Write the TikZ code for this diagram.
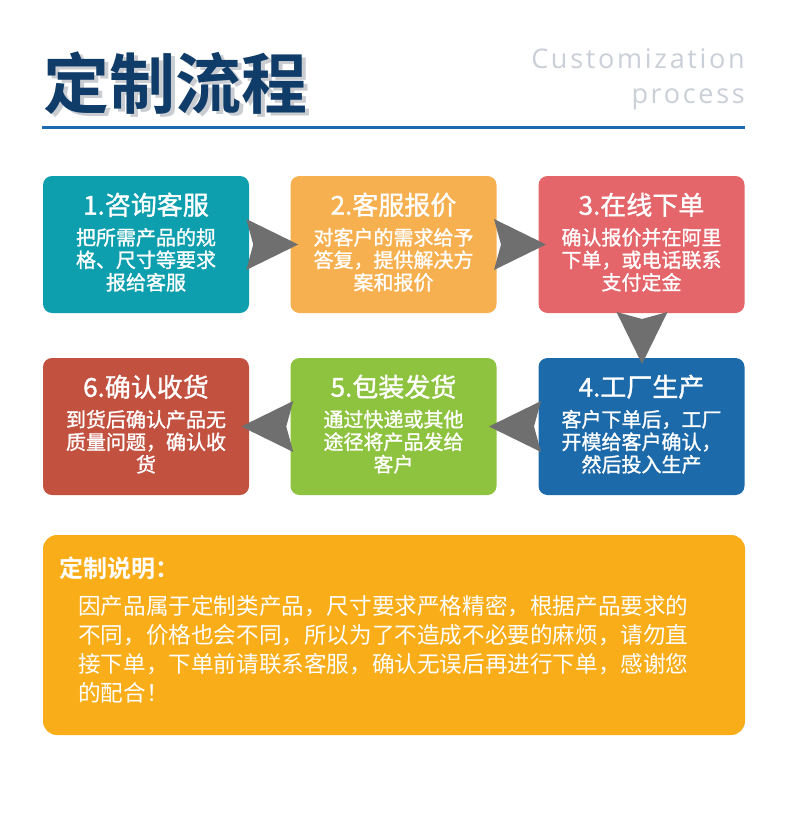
\documentclass[tikz,border=0pt]{standalone}
\usepackage{fontspec}
\usetikzlibrary{calc}
\newfontfamily\cjk[BoldFont={Noto Sans CJK SC Bold}]{Noto Sans CJK SC}
\newfontfamily\cjkm[FakeBold=1.3]{Noto Sans CJK SC}
\newfontfamily\latin[LetterSpace=10]{Open Sans}
\definecolor{cteal}{HTML}{0E9FAE}
\definecolor{corange}{HTML}{F7B04F}
\definecolor{cred}{HTML}{E5666A}
\definecolor{cblue}{HTML}{1D6AAA}
\definecolor{cgreen}{HTML}{8DC33F}
\definecolor{cbrick}{HTML}{C2513F}
\definecolor{cnote}{HTML}{F9AD19}
\definecolor{cgrayarrow}{HTML}{6F6F6F}
\definecolor{cline}{HTML}{1C6AB0}
\definecolor{ctitle}{HTML}{0F3C68}
\definecolor{cshadow}{HTML}{C9CCD0}
\definecolor{cengl}{HTML}{CACFD8}
\tikzset{
  stepbox/.style={rounded corners=9pt, minimum width=206pt, minimum height=137pt, inner sep=0pt, draw=none},
  steptitle/.style={text=white, inner sep=0pt, font=\cjkm\fontsize{26}{28}\selectfont},
  stepbody/.style={text=white, inner sep=0pt, align=center, font=\cjkm\fontsize{20}{22.5}\selectfont},
  engl/.style={anchor=base east, inner sep=0pt, text=cengl, font=\latin\fontsize{27}{30}\selectfont},
  chev/.pic={\fill[cgrayarrow] (-23.5,-25.5) -- (28.5,0) -- (-23.5,25.5) -- (-16.5,0) -- cycle;}
}
\begin{document}
\begin{tikzpicture}[x=1pt,y=-1pt]
\useasboundingbox[fill=white] (0,0) rectangle (790,816);
% header
\node[anchor=west, inner sep=0pt, font=\cjk\bfseries\fontsize{66}{70}\selectfont] (title) at (43,85)
  {\rlap{\hspace{4pt}\raisebox{-3pt}{\textcolor{cshadow}{定制流程}}}\textcolor{ctitle}{定制流程}};
\node[engl] (eng1) at (745,68.5) {Customization};
\node[engl] (eng2) at (745,103) {process};
\coordinate (l1) at (42,127);
\coordinate (l2) at (745,127);
\draw[cline, line width=3pt] (l1) -- (l2);
% boxes
\node[stepbox, fill=cteal] (b1) at (146,244.5) {};
\node[stepbox, fill=corange] (b2) at (393.5,244.5) {};
\node[stepbox, fill=cred] (b3) at (641.5,244.5) {};
\node[stepbox, fill=cblue] (b4) at (641.5,426.5) {};
\node[stepbox, fill=cgreen] (b5) at (393.5,426.5) {};
\node[stepbox, fill=cbrick] (b6) at (146,426.5) {};
% texts
\foreach \b/\t/\d in {
 b1/{1.咨询客服}/{把所需产品的规\\格、尺寸等要求\\报给客服},
 b2/{2.客服报价}/{对客户的需求给予\\答复，提供解决方\\案和报价},
 b3/{3.在线下单}/{确认报价并在阿里\\下单，或电话联系\\支付定金},
 b4/{4.工厂生产}/{客户下单后，工厂\\开模给客户确认，\\然后投入生产},
 b5/{5.包装发货}/{通过快递或其他\\途径将产品发给\\客户},
 b6/{6.确认收货}/{到货后确认产品无\\质量问题，确认收\\货}}{
  \node[steptitle] (t\b) at ($(\b.north)+(0,29)$) {\t};
  \node[stepbody] (d\b) at ($(\b.north)+(0,84)$) {\d};
}
% arrows
\coordinate (m12) at ($(b1.east)!0.5!(b2.west)$);
\coordinate (m23) at ($(b2.east)!0.5!(b3.west)$);
\coordinate (m34) at ($(b3.south)!0.5!(b4.north)+(0.5,0)$);
\coordinate (m45) at ($(b4.west)!0.5!(b5.east)$);
\coordinate (m56) at ($(b5.west)!0.5!(b6.east)$);
\pic at (m12) {chev};
\pic at (m23) {chev};
\pic[rotate=-90] at (m34) {chev};
\pic[rotate=180] at (m45) {chev};
\pic[rotate=180] at (m56) {chev};
% note
\node[rounded corners=14pt, fill=cnote, minimum width=702pt, minimum height=200pt, inner sep=0pt] (note) at (394,635) {};
\node[anchor=west, inner sep=0pt, text=white, font=\cjk\bfseries\fontsize{24}{28}\selectfont] (notetitle) at (59,568) {定制说明：};
\node[anchor=north west, inner sep=0pt, text=white, align=left, font=\cjk\fontsize{22.6}{29}\selectfont] (notebody) at (78,595) {因产品属于定制类产品，尺寸要求严格精密，根据产品要求的\\不同，价格也会不同，所以为了不造成不必要的麻烦，请勿直\\接下单，下单前请联系客服，确认无误后再进行下单，感谢您\\的配合！};
\end{tikzpicture}
\end{document}
